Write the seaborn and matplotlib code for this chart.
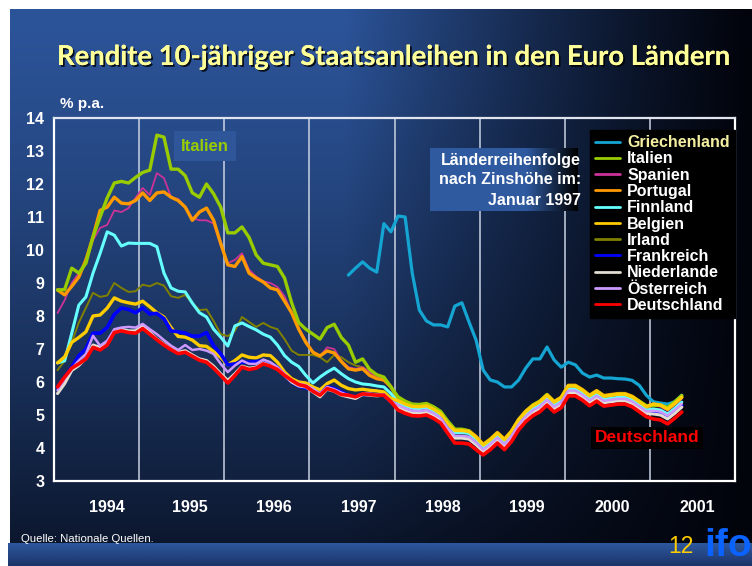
import numpy as np
import pandas as pd
import matplotlib
matplotlib.use("Agg")
import matplotlib.pyplot as plt
import seaborn as sns
from matplotlib import patheffects as pe
from matplotlib.lines import Line2D

sns.set_theme(style="white")
plt.rcParams['font.family'] = ['Liberation Sans', 'DejaVu Sans']

# ---------------- data (monthly averages, Jan 1994 .. May 2001) ----------------
n_months = 89
greece_start = 41          # Jun 1997

griechenland = [9.24, 9.45, 9.64, 9.45, 9.33, 10.80, 10.55, 11.03, 11.00, 9.30, 8.18, 7.85,
                7.73, 7.73, 7.67, 8.30, 8.40, 7.82, 7.27, 6.36, 6.06, 6.00, 5.85, 5.85,
                6.06, 6.42, 6.70, 6.70, 7.06, 6.67, 6.45, 6.60, 6.52, 6.27, 6.15, 6.21,
                6.12, 6.12, 6.10, 6.09, 6.05, 5.90, 5.60, 5.40, 5.36, 5.33, 5.40, 5.60]

italien = [8.79, 8.80, 9.45, 9.30, 9.60, 10.40, 11.00, 11.58, 12.03, 12.08, 12.03, 12.20,
           12.35, 12.42, 13.48, 13.42, 12.45, 12.45, 12.25, 11.73, 11.60, 12.00, 11.70, 11.30,
           10.52, 10.52, 10.70, 10.38, 9.85, 9.60, 9.55, 9.50, 9.15, 8.40, 7.80, 7.60,
           7.45, 7.30, 7.65, 7.75, 7.35, 7.12, 6.60, 6.70, 6.38, 6.22, 6.15, 5.85,
           5.55, 5.42, 5.33, 5.32, 5.35, 5.25, 5.11, 4.82, 4.57, 4.57, 4.52, 4.30,
           4.09, 4.25, 4.45, 4.25, 4.50, 4.85, 5.10, 5.30, 5.42, 5.62, 5.40, 5.52,
           5.88, 5.88, 5.75, 5.58, 5.72, 5.57, 5.60, 5.63, 5.63, 5.55, 5.42, 5.28,
           5.28, 5.30, 5.23, 5.40, 5.59]

spanien = [8.09, 8.48, 9.00, 9.30, 9.60, 10.30, 10.67, 10.76, 11.20, 11.15, 11.27, 11.58,
           11.88, 11.67, 12.33, 12.18, 11.60, 11.55, 11.30, 10.97, 10.90, 10.90, 10.80, 10.15,
           9.60, 9.70, 9.90, 9.40, 9.20, 9.05, 9.00, 8.88, 8.60, 8.10, 7.65, 7.25,
           6.92, 6.78, 7.05, 7.00, 6.65, 6.45, 6.40, 6.45, 6.30, 6.15, 6.10, 5.90,
           5.45, 5.35, 5.28, 5.27, 5.30, 5.20, 5.06, 4.75, 4.51, 4.51, 4.48, 4.31,
           4.06, 4.22, 4.42, 4.22, 4.47, 4.82, 5.07, 5.25, 5.37, 5.57, 5.36, 5.49,
           5.85, 5.85, 5.72, 5.55, 5.69, 5.54, 5.57, 5.60, 5.60, 5.52, 5.37, 5.22,
           5.28, 5.25, 5.13, 5.30, 5.49]

portugal = [8.79, 8.64, 8.90, 9.18, 9.70, 10.40, 11.20, 11.30, 11.60, 11.42, 11.40, 11.50,
            11.73, 11.50, 11.73, 11.76, 11.60, 11.50, 11.30, 10.90, 11.15, 11.27, 10.90, 10.20,
            9.55, 9.50, 9.80, 9.30, 9.15, 9.03, 8.85, 8.79, 8.45, 8.10, 7.60, 7.20,
            6.90, 6.79, 6.94, 6.88, 6.62, 6.40, 6.36, 6.40, 6.20, 6.10, 6.06, 5.85,
            5.48, 5.38, 5.31, 5.30, 5.33, 5.23, 5.09, 4.78, 4.55, 4.55, 4.52, 4.35,
            4.11, 4.27, 4.47, 4.27, 4.52, 4.87, 5.12, 5.30, 5.42, 5.62, 5.41, 5.54,
            5.90, 5.90, 5.77, 5.60, 5.74, 5.59, 5.62, 5.65, 5.65, 5.57, 5.42, 5.27,
            5.33, 5.30, 5.18, 5.35, 5.54]

finnland = [6.58, 6.64, 7.48, 8.33, 8.58, 9.30, 9.90, 10.55, 10.45, 10.12, 10.21, 10.20,
            10.20, 10.20, 10.10, 9.30, 8.85, 8.75, 8.73, 8.39, 8.10, 7.97, 7.60, 7.36,
            7.09, 7.70, 7.79, 7.68, 7.58, 7.45, 7.36, 7.12, 6.80, 6.60, 6.47, 6.20,
            5.97, 6.15, 6.30, 6.42, 6.25, 6.10, 6.00, 5.94, 5.92, 5.88, 5.85, 5.65,
            5.37, 5.27, 5.20, 5.19, 5.22, 5.12, 4.98, 4.67, 4.47, 4.47, 4.44, 4.27,
            3.99, 4.15, 4.35, 4.15, 4.40, 4.75, 5.00, 5.18, 5.30, 5.50, 5.29, 5.42,
            5.78, 5.78, 5.65, 5.48, 5.62, 5.47, 5.50, 5.53, 5.53, 5.45, 5.30, 5.15,
            5.18, 5.15, 5.03, 5.20, 5.39]

belgien = [6.58, 6.76, 7.20, 7.35, 7.52, 8.00, 8.03, 8.24, 8.55, 8.45, 8.40, 8.36,
           8.45, 8.28, 8.10, 7.97, 7.65, 7.38, 7.36, 7.27, 7.10, 7.08, 6.92, 6.75,
           6.52, 6.65, 6.82, 6.75, 6.73, 6.82, 6.80, 6.60, 6.30, 6.10, 6.00, 5.97,
           5.85, 5.76, 5.95, 6.06, 5.90, 5.80, 5.76, 5.78, 5.75, 5.73, 5.70, 5.50,
           5.43, 5.33, 5.26, 5.25, 5.28, 5.18, 5.04, 4.73, 4.53, 4.53, 4.50, 4.33,
           4.09, 4.25, 4.45, 4.25, 4.50, 4.85, 5.10, 5.28, 5.40, 5.60, 5.39, 5.52,
           5.88, 5.88, 5.75, 5.58, 5.72, 5.57, 5.60, 5.63, 5.63, 5.55, 5.40, 5.25,
           5.33, 5.30, 5.18, 5.35, 5.54]

irland = [6.36, 6.64, 7.20, 7.80, 8.25, 8.70, 8.58, 8.62, 9.00, 8.85, 8.73, 8.75,
          8.95, 8.90, 9.00, 8.92, 8.60, 8.55, 8.64, 8.39, 8.18, 8.20, 7.85, 7.45,
          7.39, 7.55, 7.97, 7.82, 7.67, 7.79, 7.67, 7.60, 7.30, 6.95, 6.82, 6.82,
          6.82, 6.75, 6.60, 6.82, 6.75, 6.60, 6.50, 6.45, 6.32, 6.20, 6.10, 5.85,
          5.45, 5.35, 5.28, 5.27, 5.30, 5.20, 5.06, 4.75, 4.50, 4.50, 4.47, 4.30,
          4.01, 4.17, 4.37, 4.17, 4.42, 4.77, 5.02, 5.20, 5.32, 5.52, 5.31, 5.44,
          5.80, 5.80, 5.67, 5.50, 5.64, 5.49, 5.52, 5.55, 5.55, 5.47, 5.32, 5.17,
          5.18, 5.15, 5.03, 5.20, 5.39]

frankreich = [5.82, 6.15, 6.45, 6.80, 7.00, 7.48, 7.48, 7.65, 8.05, 8.24, 8.20, 8.10,
              8.25, 8.06, 8.08, 7.92, 7.55, 7.52, 7.48, 7.39, 7.39, 7.50, 7.10, 6.85,
              6.52, 6.55, 6.60, 6.60, 6.62, 6.64, 6.55, 6.45, 6.20, 6.00, 5.87, 5.82,
              5.75, 5.62, 5.85, 5.80, 5.70, 5.60, 5.55, 5.62, 5.62, 5.60, 5.60, 5.40,
              5.27, 5.17, 5.10, 5.09, 5.12, 5.02, 4.88, 4.57, 4.33, 4.33, 4.30, 4.13,
              3.91, 4.07, 4.27, 4.07, 4.32, 4.67, 4.92, 5.10, 5.22, 5.42, 5.21, 5.34,
              5.70, 5.70, 5.57, 5.40, 5.54, 5.39, 5.42, 5.45, 5.45, 5.37, 5.22, 5.07,
              5.08, 5.05, 4.93, 5.10, 5.29]

niederlande = [5.65, 5.95, 6.35, 6.50, 6.72, 7.12, 7.05, 7.15, 7.55, 7.60, 7.55, 7.55,
               7.72, 7.50, 7.30, 7.15, 7.00, 6.90, 6.95, 6.82, 6.70, 6.65, 6.48, 6.25,
               6.05, 6.25, 6.48, 6.42, 6.45, 6.58, 6.50, 6.40, 6.20, 6.00, 5.88, 5.85,
               5.70, 5.55, 5.78, 5.72, 5.60, 5.55, 5.50, 5.62, 5.60, 5.58, 5.60, 5.40,
               5.23, 5.13, 5.06, 5.05, 5.08, 4.98, 4.84, 4.53, 4.30, 4.30, 4.27, 4.10,
               3.89, 4.05, 4.25, 4.05, 4.30, 4.65, 4.90, 5.08, 5.20, 5.40, 5.19, 5.32,
               5.68, 5.68, 5.55, 5.38, 5.52, 5.37, 5.40, 5.43, 5.43, 5.35, 5.20, 5.05,
               5.03, 5.00, 4.88, 5.05, 5.24]

oesterreich = [5.75, 6.10, 6.40, 6.65, 6.85, 7.40, 7.10, 7.25, 7.60, 7.65, 7.67, 7.65,
               7.76, 7.60, 7.45, 7.27, 7.10, 6.97, 7.12, 6.97, 7.00, 6.95, 6.85, 6.55,
               6.30, 6.50, 6.65, 6.55, 6.55, 6.68, 6.60, 6.45, 6.25, 6.05, 5.95, 5.90,
               5.80, 5.65, 5.85, 5.78, 5.68, 5.60, 5.55, 5.65, 5.65, 5.62, 5.62, 5.42,
               5.30, 5.20, 5.13, 5.12, 5.15, 5.05, 4.91, 4.60, 4.37, 4.37, 4.34, 4.17,
               3.95, 4.11, 4.31, 4.11, 4.36, 4.71, 4.96, 5.14, 5.26, 5.46, 5.25, 5.38,
               5.74, 5.74, 5.61, 5.44, 5.58, 5.43, 5.46, 5.49, 5.49, 5.41, 5.26, 5.11,
               5.13, 5.10, 4.98, 5.15, 5.34]

deutschland = [5.85, 6.15, 6.42, 6.55, 6.70, 7.05, 6.97, 7.12, 7.50, 7.55, 7.50, 7.48,
               7.62, 7.45, 7.28, 7.12, 6.98, 6.86, 6.90, 6.78, 6.66, 6.60, 6.42, 6.20,
               5.97, 6.20, 6.45, 6.38, 6.42, 6.55, 6.48, 6.38, 6.20, 6.05, 5.92, 5.87,
               5.72, 5.60, 5.80, 5.73, 5.62, 5.60, 5.55, 5.64, 5.62, 5.60, 5.60, 5.40,
               5.15, 5.05, 4.98, 4.97, 5.00, 4.90, 4.76, 4.45, 4.15, 4.15, 4.12, 3.95,
               3.79, 3.95, 4.15, 3.95, 4.20, 4.55, 4.80, 4.98, 5.10, 5.30, 5.09, 5.22,
               5.58, 5.58, 5.45, 5.28, 5.42, 5.27, 5.30, 5.33, 5.33, 5.25, 5.10, 4.95,
               4.88, 4.85, 4.73, 4.90, 5.09]

laender = ["Griechenland", "Italien", "Spanien", "Portugal", "Finnland", "Belgien",
           "Irland", "Frankreich", "Niederlande", "Österreich", "Deutschland"]
werte = [griechenland, italien, spanien, portugal, finnland, belgien, irland,
         frankreich, niederlande, oesterreich, deutschland]
farben = ["#14a5d2", "#99cc00", "#cc3399", "#ff9900", "#66ffff", "#ffcc00",
          "#808000", "#0000ff", "#e2ddd0", "#cc99ff", "#ff0000"]
breiten = [2.3, 2.4, 1.3, 2.4, 2.2, 2.4, 1.4, 2.6, 2.2, 1.8, 2.6]
jahre = ["1994", "1995", "1996", "1997", "1998", "1999", "2000", "2001"]
y_ticks = list(range(3, 15))

monate = np.arange(n_months) + 0.5   # mid-month positions (months since Jan 1994)
rows = []
for land, vals in zip(laender, werte):
    xs = monate[greece_start:] if land == "Griechenland" else monate
    for x, v in zip(xs, vals):
        rows.append((land, x, v))
df = pd.DataFrame(rows, columns=["Land", "Monat", "Rendite"])

# ---------------- figure ----------------
W, H = 752, 566
fig = plt.figure(figsize=(W / 100, H / 100), dpi=100)
fig.patch.set_facecolor("white")

# slide background gradient
bg = fig.add_axes([10 / W, 0, (W - 10) / W, (H - 9) / H], zorder=0)
xx = np.linspace(0, 1, 500)[None, :]
yy = np.linspace(0, 1, 400)[:, None]
fx = np.clip((1 - xx) / 0.55, 0, 1) ** 1.2
fy = 1 - 0.8 * yy ** 1.3
f = (fx * fy)[..., None]
B = np.array([44, 84, 153]) / 255
D = np.array([2, 4, 12]) / 255
bg.imshow(D + f * (B - D), aspect="auto", interpolation="bilinear")
bg.axis("off")

# bottom band
band = fig.add_axes([8 / W, 0, (W - 8) / W, 23 / H], zorder=0.5)
by = np.linspace(0, 1, 50)[:, None, None] * np.ones((1, 200, 1))
top_c = np.array([45, 88, 158]) / 255
bot_c = np.array([28, 52, 105]) / 255
band.imshow(top_c + by * (bot_c - top_c), aspect="auto", interpolation="bilinear")
band.axis("off")

# main axes
ax = fig.add_axes([54 / W, (H - 481) / H, (735 - 54) / W, (481 - 118) / H], zorder=2)
ax.patch.set_alpha(0)

for yr in range(1, 8):
    ax.axvline(12 * yr, color="#c9d2e3", lw=1.1, zorder=1)

draw_order = ["Griechenland", "Irland", "Spanien", "Portugal", "Italien", "Finnland",
              "Belgien", "Frankreich", "Niederlande", "Österreich", "Deutschland"]
for land in draw_order:
    i = laender.index(land)
    sns.lineplot(data=df[df.Land == land], x="Monat", y="Rendite", ax=ax,
                 color=farben[i], linewidth=breiten[i], legend=False, zorder=3,
                 solid_joinstyle="round")

ax.set_xlim(0, 96)
ax.set_ylim(3, 14)
ax.set_xticks(range(0, 97, 6))
ax.set_xticklabels([])
ax.set_yticks(y_ticks)
ax.set_yticklabels([str(v) for v in y_ticks], fontsize=11.5, fontweight="bold", color="white")
ax.tick_params(axis="both", direction="in", length=4.5, width=1.4, color="white")
ax.tick_params(axis="y", pad=7)
ax.set_xlabel("")
ax.set_ylabel("")
for s in ax.spines.values():
    s.set_color("white")
    s.set_linewidth(1.6)
    s.set_visible(True)
ax.spines["top"].set_color("#dfe4ee")

# legend
handles = [Line2D([0], [0], color=c, lw=2.0) for c in farben]
leg = ax.legend(handles, laender, loc="upper left", bbox_to_anchor=(590 / W, 1 - 130 / H),
                bbox_transform=fig.transFigure, frameon=True, fancybox=False,
                facecolor="black", edgecolor="black", framealpha=1,
                prop={"size": 11.5, "weight": "bold"}, labelspacing=0.08,
                handlelength=1.55, handletextpad=0.45, borderpad=0.32, borderaxespad=0)
for k, t in enumerate(leg.get_texts()):
    t.set_color("#f4efa0" if k == 0 else "white")
leg.set_zorder(10)

# year labels
year_px = [107, 190, 274, 359, 443, 527, 612, 697]
for lab, px in zip(jahre, year_px):
    fig.text(px / W, 1 - 507 / H, lab, ha="center", va="center", color="white",
             fontsize=11.5, fontweight="bold",
             family=["Liberation Sans Narrow", "Liberation Sans", "DejaVu Sans"])

# title
title = fig.text(393 / W, 1 - 65 / H, "Rendite 10-jähriger Staatsanleihen in den Euro Ländern",
                 ha="center", va="baseline", color="#ffff99", fontsize=16, fontweight="bold",
                 family=["Lato", "DejaVu Sans"],
                 path_effects=[pe.withSimplePatchShadow(offset=(1.3, -1.3), shadow_rgbFace="black", alpha=0.8),
                               pe.Normal()])
fig.canvas.draw()
w = title.get_window_extent(fig.canvas.get_renderer()).width
title.set_fontsize(16 * 676 / w)

fig.text(60 / W, 1 - 108 / H, "% p.a.", ha="left", va="baseline", color="white",
         fontsize=11, fontweight="bold")

# Italien label
fig.text(205 / W, 1 - 146 / H, "Italien", ha="center", va="center", color="#99cc00",
         fontsize=12, fontweight="bold",
         bbox=dict(boxstyle="square,pad=0.45", facecolor="#2e5699", edgecolor="none"))

# annotation box with horizontal gradient
ab = fig.add_axes([430 / W, 1 - 211 / H, 148 / W, 63 / H], zorder=3)
gx = np.linspace(0, 1, 300)[None, :]
gf = np.clip((1 - gx) / 0.35, 0, 1)[..., None] * np.ones((10, 1, 1))
c_left = np.array([47, 90, 160]) / 255
ab.imshow(gf * c_left, aspect="auto", interpolation="bilinear")
ab.axis("off")
for txt, ypx in [("Länderreihenfolge", 160), ("nach Zinshöhe im:", 180), ("Januar 1997", 200)]:
    fig.text(581 / W, 1 - ypx / H, txt, ha="right", va="center", color="white",
             fontsize=11.5, fontweight="bold", zorder=5)

# Deutschland label
fig.text(647 / W, 1 - 438 / H, "Deutschland", ha="center", va="center", color="#ff0000",
         fontsize=12.5, fontweight="bold",
         bbox=dict(boxstyle="square,pad=0.2", facecolor="black", edgecolor="none"))

# source, page number, logo
fig.text(21 / W, 1 - 542 / H, "Quelle: Nationale Quellen.", ha="left", va="baseline",
         color="white", fontsize=8.2,
         family=["Liberation Sans Narrow", "Liberation Sans", "DejaVu Sans"])
fig.text(668 / W, 1 - 553 / H, "12", ha="left", va="baseline", color="#ffcc00", fontsize=16.5)
fig.text(704 / W, 1 - 556 / H, "ifo", ha="left", va="baseline", color="#0a62ff",
         fontsize=28, fontweight="bold")

fig.savefig("out.png", dpi=100, facecolor=fig.get_facecolor())
